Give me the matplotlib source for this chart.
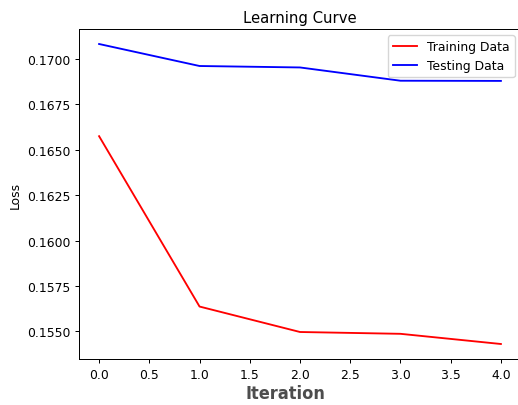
import numpy as np
import matplotlib.pyplot as plt

# loss per iteration
iterations = [0, 1, 2, 3, 4]
train_loss = [0.16574, 0.15637, 0.15497, 0.15487, 0.15431]
test_loss = [0.17081, 0.16960, 0.16952, 0.16879, 0.16878]

scale = 0.89
fs = 10 * scale

fig = plt.figure(figsize=(5.18, 4.06), dpi=100)
ax = fig.add_axes([79 / 518, 46 / 406, 442 / 518, 330 / 406])

ax.plot(iterations, train_loss, color='red', lw=1.5 * scale, label='Training Data')
ax.plot(iterations, test_loss, color='blue', lw=1.5 * scale, label='Testing Data')

ax.set_title('Learning Curve', fontsize=12 * scale, pad=6 * scale)
ax.set_ylabel('Loss', fontsize=fs, labelpad=4 * scale)
ax.set_xlabel('Iteration', fontsize=13, fontweight='bold', fontstretch='condensed',
              color='#2e2e2e')
ax.xaxis.label.set_alpha(0.85)
ax.xaxis.set_label_coords(0.466, -0.075)

ax.set_xticks(np.arange(0, 4.5, 0.5))
ax.set_yticks([0.1550, 0.1575, 0.1600, 0.1625, 0.1650, 0.1675, 0.1700])
ax.yaxis.set_major_formatter(plt.FormatStrFormatter('%.4f'))
ax.tick_params(labelsize=fs, length=3.5 * scale, width=0.8 * scale, pad=3.5 * scale)
for s in ax.spines.values():
    s.set_linewidth(0.8 * scale)
ax.spines['right'].set_visible(False)

ax.legend(loc='upper right', fontsize=fs)

fig.savefig('out.png', dpi=100)
